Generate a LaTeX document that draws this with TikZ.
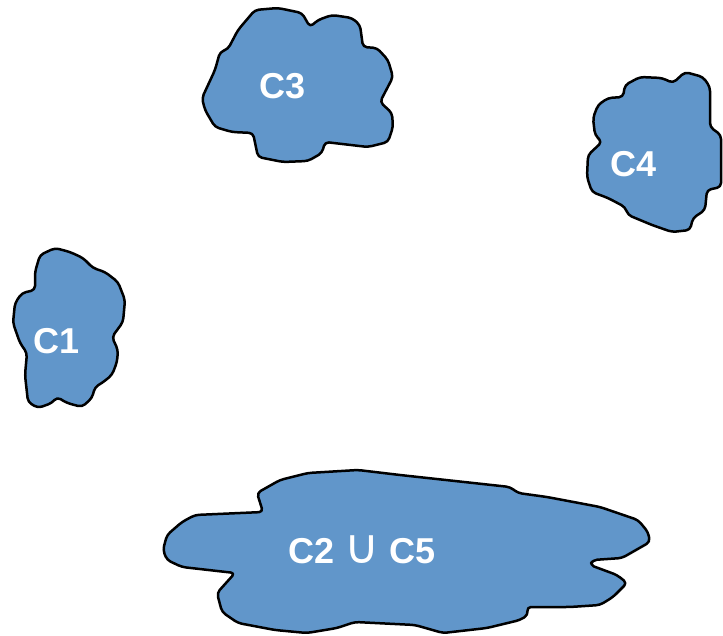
\documentclass[tikz,border=0pt]{standalone}
\usepackage{fontspec}
\setmainfont{Liberation Sans}
\newfontfamily\symfont{DejaVu Sans}
\usetikzlibrary{positioning}
\definecolor{blobblue}{RGB}{97,150,202}

\begin{document}
\begin{tikzpicture}[
    x=1pt, y=-1pt,
    cluster/.style={draw=black, fill=blobblue, line width=2.5pt, rounded corners=4pt, line join=round},
    clabel/.style={text=white, font=\fontsize{36}{36}\selectfont\bfseries, inner sep=0pt},
]
\useasboundingbox (0,0) rectangle (723,636);

% C3
\draw[cluster] (255,10) -- (278,8) -- (302,13) -- (310,27) -- (318,20) -- (332,15)
  -- (352,18) -- (360,25) -- (363,47) -- (377,48) -- (388,60) -- (393,77)
  -- (380,102) -- (392,113) -- (393,127) -- (388,142) -- (368,147) -- (325,142)
  -- (322,153) -- (308,161) -- (283,162) -- (258,157) -- (253,133) -- (232,132)
  -- (215,127) -- (205,110) -- (202,98) -- (215,70) -- (220,52) -- (228,49)
  -- (238,30) -- cycle;
\node[clabel] (c3) at (283,86) {C3};

% C4
\draw[cluster] (625,85) -- (640,77) -- (662,78) -- (673,83) -- (685,72) -- (703,77)
  -- (710,87) -- (710,127) -- (721,135) -- (721,187) -- (707,190) -- (705,210)
  -- (693,218) -- (690,230) -- (672,232) -- (652,225) -- (628,215) -- (625,207)
  -- (608,198) -- (592,192) -- (587,177) -- (588,155) -- (602,142) -- (595,135)
  -- (593,118) -- (598,105) -- (608,98) -- (623,97) -- cycle;
\node[clabel] (c4) at (634,164) {C4};

% C1
\draw[cluster] (40,255) -- (55,248) -- (70,252) -- (83,258) -- (93,268) -- (105,272)
  -- (118,282) -- (125,300) -- (123,322) -- (112,337) -- (118,350) -- (117,362)
  -- (112,375) -- (102,383) -- (95,387) -- (92,398) -- (82,407) -- (67,403)
  -- (57,397) -- (52,403) -- (38,408) -- (28,402) -- (25,375) -- (27,353)
  -- (20,343) -- (13,323) -- (15,303) -- (22,293) -- (35,290) -- (35,272) -- cycle;
\node[clabel] (c1) at (57,341) {C1};

% C2 u C5
\draw[cluster] (280,480) -- (308,473) -- (358,470) -- (400,475) -- (510,487)
  -- (518,493) -- (547,497) -- (600,507) -- (638,520) -- (648,532) -- (650,542)
  -- (622,558) -- (593,560) -- (590,565) -- (617,575) -- (627,583) -- (613,597)
  -- (600,605) -- (570,607) -- (527,607) -- (528,615) -- (520,620) -- (487,628)
  -- (443,633) -- (415,625) -- (355,622) -- (337,628) -- (307,633) -- (275,630)
  -- (238,623) -- (222,612) -- (217,593) -- (235,573) -- (182,567) -- (167,560)
  -- (163,550) -- (167,535) -- (182,522) -- (195,515) -- (263,512) -- (257,493) -- cycle;
\node[clabel] (c25) at (362,550) {C2 {\symfont\fontsize{48}{48}\selectfont\mdseries ∪} C5};

\end{tikzpicture}
\end{document}
